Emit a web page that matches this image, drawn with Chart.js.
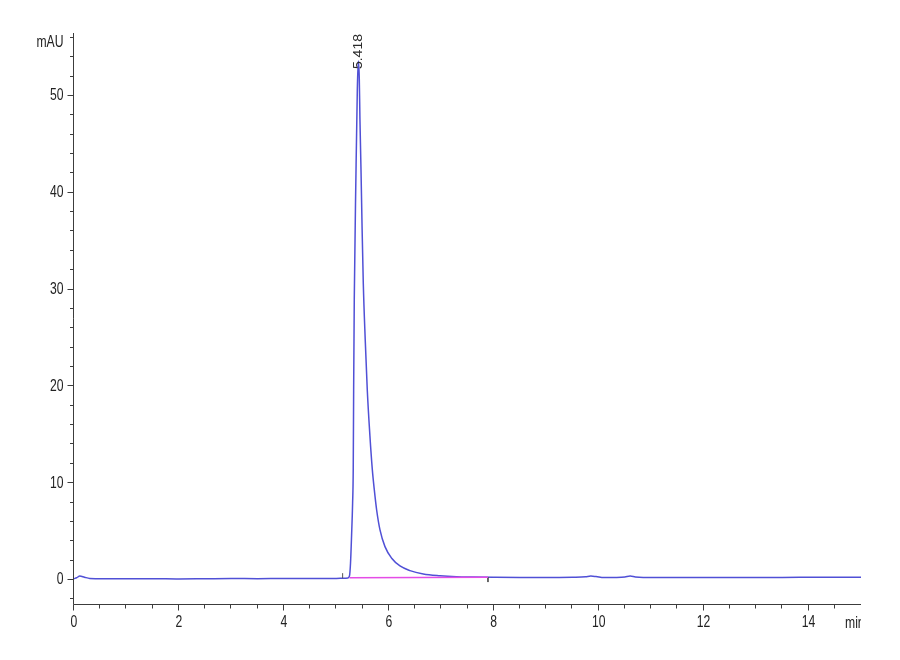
<!DOCTYPE html>
<html>
<head>
<meta charset="utf-8">
<title>Chromatogram</title>
<script src="https://cdn.jsdelivr.net/npm/chart.js@4"></script>
<style>
  html, body { margin: 0; padding: 0; background: #fff; }
  #chromChart { display: block; }
</style>
</head>
<body>
<canvas id="chromChart" width="900" height="660"></canvas>
<script>
/* =========================
   DATA
========================= */
const rtMin = [
  0, 0.05, 0.11, 0.2, 0.3, 0.6, 1.0, 1.5, 2.0, 2.5,
  3.0, 3.5, 4.0, 4.5, 5.0, 5.15, 5.22, 5.25, 5.27, 5.29,
  5.31, 5.322, 5.33, 5.342, 5.374, 5.40, 5.418, 5.437, 5.45, 5.47,
  5.49, 5.514, 5.55, 5.59, 5.64, 5.686, 5.724, 5.769, 5.832, 5.927,
  6.055, 6.213, 6.404, 6.657, 6.975, 7.29, 7.6, 8.0, 8.5, 9.0,
  9.5, 9.75, 9.85, 9.95, 10.1, 10.3, 10.5, 10.6, 10.7, 10.85,
  11.5, 12.5, 13.5, 14.5, 15
];
const mAU = [
  0.03, 0.12, 0.3, 0.18, 0.06, 0.03, 0.02, 0.03, 0.0, 0.02,
  0.04, 0.03, 0.05, 0.04, 0.05, 0.08, 0.1, 0.3, 1.6, 4.4,
  7.8, 11.3, 19.5, 28.9, 41.8, 50.5, 53.5, 51.8, 47.5, 42.3,
  36.5, 30.5, 24.8, 19.5, 14.8, 11.3, 9.2, 7.1, 5.07, 3.34,
  2.14, 1.34, 0.86, 0.52, 0.34, 0.24, 0.2, 0.17, 0.15, 0.16,
  0.18, 0.22, 0.3, 0.25, 0.14, 0.15, 0.2, 0.3, 0.2, 0.15,
  0.14, 0.15, 0.16, 0.17, 0.17
];

// integration baseline (pink) and its start / end marks
const baselineRt = [5.25, 7.89];
const baselineMAU = [0.12, 0.18];
const startMarkRt = [5.12, 5.12];
const startMarkMAU = [0.08, 0.6];
const endMarkRt = [7.89, 7.89];
const endMarkMAU = [0.18, -0.32];

// peak annotation
const peakRt = [5.418];
const peakText = ["5.418"];

// axes
const xTickLabels = [0, 2, 4, 6, 8, 10, 12, 14];
const yTickLabels = [0, 10, 20, 30, 40, 50];
const xMinorStep = 0.5;
const yMinorStep = 2;
const xRange = [0, 15];
const yRange = [-2.69, 56.4];
const xUnit = "min";
const yUnit = "mAU";

/* =========================
   HELPERS
========================= */
const AXIS_COLOR = "#3c3c3c";
const TEXT_COLOR = "#222";
const LABEL_FONT = '16px "Liberation Sans", Arial, sans-serif';
const SQUEEZE = 0.76;

function toPoints(xs, ys) {
  return xs.map((x, i) => ({ x, y: ys[i] }));
}

function squeezedText(ctx, text, x, y, align) {
  ctx.save();
  ctx.translate(x, y);
  ctx.scale(SQUEEZE, 1);
  ctx.textAlign = align;
  ctx.fillText(text, 0, 0);
  ctx.restore();
}

/* =========================
   AXES + LABEL PLUGIN
========================= */
const axesPlugin = {
  id: "hplcAxes",
  afterDatasetsDraw(chart) {
    const { ctx, chartArea: a, scales } = chart;
    const xs = scales.x, ys = scales.y;
    const ax = Math.round(a.left) - 0.5;
    const ay = Math.round(a.bottom) - 0.5;

    ctx.save();
    ctx.strokeStyle = AXIS_COLOR;
    ctx.lineWidth = 1;

    // axis lines
    ctx.beginPath();
    ctx.moveTo(ax, Math.round(a.top));
    ctx.lineTo(ax, ay);
    ctx.lineTo(Math.round(a.right), ay);
    ctx.stroke();

    // y ticks
    ctx.beginPath();
    for (let v = -2; v <= yRange[1]; v += yMinorStep) {
      const py = Math.round(ys.getPixelForValue(v)) + 0.5;
      const len = v % 10 === 0 ? 6 : 3.5;
      ctx.moveTo(ax - len, py);
      ctx.lineTo(ax, py);
    }
    // x ticks
    for (let v = xRange[0]; v < xRange[1]; v += xMinorStep) {
      const px = Math.round(xs.getPixelForValue(v)) - 0.5;
      const len = v % 2 === 0 ? 6 : 4;
      ctx.moveTo(px, ay);
      ctx.lineTo(px, ay + len);
    }
    ctx.stroke();

    // tick labels
    ctx.fillStyle = TEXT_COLOR;
    ctx.font = LABEL_FONT;
    ctx.textBaseline = "middle";
    yTickLabels.forEach(v => {
      squeezedText(ctx, String(v), ax - 10, ys.getPixelForValue(v) + 1, "right");
    });
    xTickLabels.forEach(v => {
      squeezedText(ctx, String(v), xs.getPixelForValue(v), ay + 18, "center");
    });

    // units
    squeezedText(ctx, yUnit, ax - 10, a.top + 10, "right");
    ctx.save();
    ctx.beginPath();
    ctx.rect(0, 0, Math.round(a.right), chart.height);
    ctx.clip();
    squeezedText(ctx, xUnit, a.right - 16, ay + 19, "left");
    ctx.restore();

    // peak retention-time label, rotated
    ctx.font = '14px "Liberation Sans", Arial, sans-serif';
    ctx.fillStyle = "#2a2a2a";
    peakRt.forEach((rt, i) => {
      let top = 0;
      rtMin.forEach((t, k) => { if (Math.abs(t - rt) < 0.01) top = Math.max(top, mAU[k]); });
      const px = xs.getPixelForValue(rt);
      const py = ys.getPixelForValue(top);
      ctx.save();
      ctx.translate(px, py + 8);
      ctx.rotate(-Math.PI / 2);
      ctx.scale(1, 0.9);
      ctx.textAlign = "left";
      ctx.textBaseline = "middle";
      ctx.fillText(peakText[i], 0, 0);
      ctx.restore();
    });

    ctx.restore();
  }
};

/* =========================
   CHART
========================= */
const ctx = document.getElementById("chromChart").getContext("2d");

const chart = new Chart(ctx, {
  type: "line",
  data: {
    datasets: [
      {
        label: "baseline",
        data: toPoints(baselineRt, baselineMAU),
        borderColor: "#e44ce6",
        borderWidth: 1.4,
        pointRadius: 0
      },
      {
        label: "start",
        data: toPoints(startMarkRt, startMarkMAU),
        borderColor: "#555",
        borderWidth: 1,
        pointRadius: 0
      },
      {
        label: "end",
        data: toPoints(endMarkRt, endMarkMAU),
        borderColor: "#555",
        borderWidth: 1,
        pointRadius: 0
      },
      {
        label: "signal",
        data: toPoints(rtMin, mAU),
        borderColor: "#5050d6",
        borderWidth: 1.5,
        pointRadius: 0,
        cubicInterpolationMode: "monotone"
      }
    ]
  },
  options: {
    responsive: false,
    animation: false,
    devicePixelRatio: 1,
    layout: { padding: { left: 74, right: 39, top: 33, bottom: 55 } },
    plugins: {
      legend: { display: false },
      tooltip: { enabled: false }
    },
    scales: {
      x: { type: "linear", min: xRange[0], max: xRange[1], display: false },
      y: { type: "linear", min: yRange[0], max: yRange[1], display: false }
    }
  },
  plugins: [axesPlugin]
});
</script>
</body>
</html>
